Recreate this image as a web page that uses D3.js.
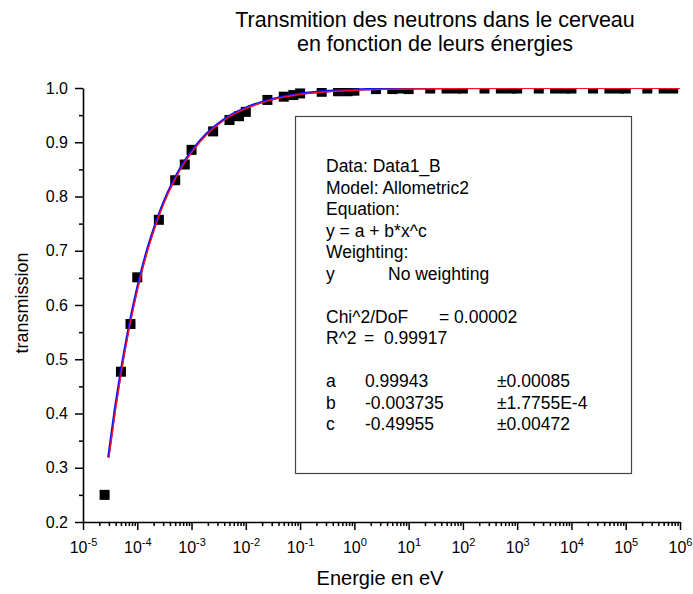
<!DOCTYPE html>
<html>
<head>
<meta charset="utf-8">
<script src="https://cdn.jsdelivr.net/npm/d3@7"></script>
<style>
    body { margin: 0; background: #fff; }
    svg { display: block; font-family: "Liberation Sans", Arial, sans-serif; }
    .tick text { font-family: "Liberation Sans", Arial, sans-serif; fill: #000; }
</style>
</head>
<body>
<svg id="chart"></svg>
<script>
// measured points (energy in eV, transmission)
const energies = [
    2.5e-5, 5e-5, 7.5e-5,
    1e-4, 2.5e-4, 5e-4, 7.5e-4,
    1e-3, 2.5e-3, 5e-3, 7.5e-3,
    1e-2, 2.5e-2, 5e-2, 7.5e-2,
    0.1, 0.25, 0.5, 0.75,
    1, 2.5, 5, 7.5,
    10, 25, 50, 75,
    100, 250, 500, 750,
    1000, 2500, 5000, 7500,
    1e4, 2.5e4, 5e4, 7.5e4,
    1e5, 2.5e5, 5e5, 7.5e5
];
const transmission = [
    0.250, 0.477, 0.565,
    0.651, 0.757, 0.830, 0.859,
    0.886, 0.920, 0.941, 0.948,
    0.956, 0.978, 0.984, 0.987,
    0.990, 0.993, 0.994, 0.994,
    0.995, 0.998, 0.998, 0.999,
    0.998, 0.999, 0.999, 0.999,
    0.999, 0.999, 0.999, 0.999,
    0.999, 0.999, 0.999, 0.999,
    0.999, 0.999, 0.999, 0.999,
    0.999, 0.999, 0.999, 0.999
];

// fitted curve
const fitEnergies = [3e-5, 4e-5, 5e-5, 7e-5, 1e-4, 1.5e-4, 2e-4, 3e-4, 5e-4, 7e-4,
    1e-3, 2e-3, 5e-3, 1e-2, 2e-2, 5e-2, 0.1, 1, 10, 100, 1000, 1e6];
const fitValues = [0.318, 0.409, 0.471, 0.553, 0.626, 0.695, 0.735, 0.784, 0.832, 0.858,
    0.881, 0.916, 0.947, 0.962, 0.973, 0.983, 0.988, 0.9957, 0.9982, 0.9991, 0.9993, 0.9994];

const yMajorTicks = [0.2, 0.3, 0.4, 0.5, 0.6, 0.7, 0.8, 0.9, 1.0];
const xDecades = [-5, -4, -3, -2, -1, 0, 1, 2, 3, 4, 5, 6];

const titleLines = ['Transmition des neutrons dans le cerveau', 'en fonction de leurs énergies'];
const xTitle = 'Energie en eV';
const yTitle = 'transmission';

// fit report, one row per line: [col1, col2, col3]
const reportTop = [
    ['Data: Data1_B'],
    ['Model: Allometric2'],
    ['Equation:'],
    ['y = a + b*x^c'],
    ['Weighting:'],
    ['y', 'No weighting']
];
const reportStats = [
    ['Chi^2/DoF', '= 0.00002'],
    ['R^2', '=  0.99917']
];
const reportParams = [
    ['a', '0.99943', '±0.00085'],
    ['b', '-0.003735', '±1.7755E-4'],
    ['c', '-0.49955', '±0.00472']
];

const W = 693, H = 594;
const svg = d3.select('#chart').attr('width', W).attr('height', H);

const x = d3.scaleLog().domain([1e-5, 1e6]).range([83, 680]);
const y = d3.scaleLinear().domain([0.2, 1.0]).range([522, 88]);

// title
svg.append('g').selectAll('text')
    .data(titleLines)
    .join('text')
    .attr('x', 435)
    .attr('y', (d, i) => 27 + i * 24)
    .attr('text-anchor', 'middle')
    .style('font-size', '21.5px')
    .text(d => d);

// y axis, major + minor
let yMinor = d3.range(0.25, 1.0, 0.1);
svg.append('g')
    .attr('transform', 'translate(83,0)')
    .call(d3.axisLeft(y).tickValues(yMinor).tickSize(4).tickFormat(''))
    .call(g => g.select('.domain').remove())
    .selectAll('line').attr('stroke-width', 1.5);
let yAxis = svg.append('g')
    .attr('transform', 'translate(83,0)')
    .call(d3.axisLeft(y).tickValues(yMajorTicks).tickSize(8).tickSizeOuter(0).tickFormat(d3.format('.1f')));
yAxis.select('.domain').attr('stroke-width', 1.6);
yAxis.selectAll('line').attr('stroke-width', 1.5);
yAxis.selectAll('text').style('font-size', '16px').attr('x', -15);

// x axis, decades + minor 2..9
let xMinor = [];
xDecades.slice(0, -1).forEach(k => {
    for (let m = 2; m <= 9; m++) xMinor.push(m * Math.pow(10, k));
});
svg.append('g')
    .attr('transform', 'translate(0,522)')
    .call(d3.axisBottom(x).tickValues(xMinor).tickSize(4).tickFormat(''))
    .call(g => g.select('.domain').remove())
    .selectAll('line').attr('stroke-width', 1.5);
let xAxis = svg.append('g')
    .attr('transform', 'translate(0,522)')
    .call(d3.axisBottom(x).tickValues(xDecades.map(k => Math.pow(10, k))).tickSize(8).tickSizeOuter(0).tickFormat(''));
xAxis.select('.domain').attr('stroke-width', 1.6);
xAxis.selectAll('line').attr('stroke-width', 1.5);
xAxis.selectAll('.tick text')
    .attr('y', 0)
    .attr('dy', 0)
    .attr('transform', 'translate(0,31)')
    .style('font-size', '16px')
    .each(function(d) {
        let t = d3.select(this);
        let k = Math.round(Math.log10(d));
        t.append('tspan').text('10');
        t.append('tspan').attr('dy', -7).style('font-size', '11px').text(k);
    });

// axis titles
svg.append('text')
    .attr('x', 380)
    .attr('y', 585)
    .attr('text-anchor', 'middle')
    .style('font-size', '20px')
    .text(xTitle);
svg.append('text')
    .attr('transform', 'translate(28,303) rotate(-90)')
    .attr('text-anchor', 'middle')
    .style('font-size', '18px')
    .text(yTitle);

// plot area clip
svg.append('clipPath').attr('id', 'plotClip')
    .append('rect')
    .attr('x', x.range()[0]).attr('y', y.range()[1])
    .attr('width', x.range()[1] - x.range()[0])
    .attr('height', y.range()[0] - y.range()[1]);

let plot = svg.append('g').attr('clip-path', 'url(#plotClip)');

let pts = energies.map((e, i) => ({ e: e, t: transmission[i] }));
let sq = 10;
plot.selectAll('rect.pt')
    .data(pts)
    .join('rect')
    .attr('class', 'pt')
    .attr('x', d => x(d.e) - sq / 2)
    .attr('y', d => y(d.t) - sq / 2)
    .attr('width', sq)
    .attr('height', sq)
    .attr('fill', '#000');

let fit = fitEnergies.map((e, i) => [e, fitValues[i]]);
let line = d3.line()
    .x(d => x(d[0]))
    .y(d => y(d[1]))
    .curve(d3.curveMonotoneX);

plot.append('path')
    .datum(fit)
    .attr('d', line)
    .attr('transform', 'translate(-0.6,-0.6)')
    .attr('fill', 'none')
    .attr('stroke', '#1010ff')
    .attr('stroke-width', 2.4);
plot.append('path')
    .datum(fit)
    .attr('d', line)
    .attr('fill', 'none')
    .attr('stroke', '#ff1020')
    .attr('stroke-width', 1.3);

// fit report box
let box = svg.append('g');
box.append('rect')
    .attr('x', 295.5).attr('y', 116.5)
    .attr('width', 336).attr('height', 357)
    .attr('fill', '#fff')
    .attr('stroke', '#444')
    .attr('stroke-width', 1.2);

let fs = '17.5px';
let lh = 21.5;
let row0 = 172;
reportTop.forEach((row, i) => {
    let by = row0 + i * lh;
    box.append('text').attr('x', 326).attr('y', by).style('font-size', fs).text(row[0]);
    if (row[1]) box.append('text').attr('x', 388).attr('y', by).style('font-size', fs).text(row[1]);
});
let statX = [439, 364];
reportStats.forEach((row, i) => {
    let by = row0 + (7 + i) * lh;
    box.append('text').attr('x', 326).attr('y', by).style('font-size', fs).text(row[0]);
    box.append('text').attr('x', statX[i]).attr('y', by).style('font-size', fs).attr('xml:space', 'preserve').text(row[1]);
});
reportParams.forEach((row, i) => {
    let by = row0 + (10 + i) * lh;
    box.append('text').attr('x', 326).attr('y', by).style('font-size', fs).text(row[0]);
    box.append('text').attr('x', 365).attr('y', by).style('font-size', fs).text(row[1]);
    box.append('text').attr('x', 497).attr('y', by).style('font-size', fs).text(row[2]);
});
</script>
</body>
</html>
